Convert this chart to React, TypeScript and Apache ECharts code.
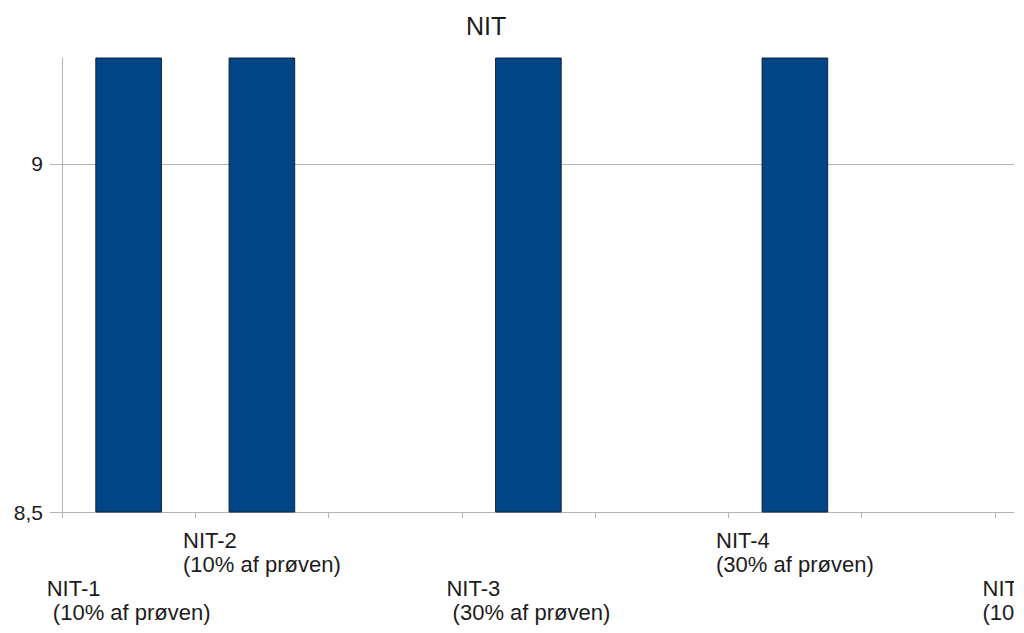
import React, { useEffect, useRef } from "react";
import * as echarts from "echarts";

const titleText = "NIT";
const categories = [
  "NIT-1\n (10% af prøven)",
  "NIT-2\n(10% af prøven)",
  "",
  "NIT-3\n (30% af prøven)",
  "",
  "NIT-4\n(30% af prøven)",
  "",
  "NIT-5\n(10% af prøven)",
];
const values: (number | null)[] = [9.3, 9.3, null, 9.3, null, 9.3, null, 9.3];
const yTicks = [8.5, 9];
const yMin = 8.5;
const yMax = 9.152;

export default function App() {
  const ref = useRef<HTMLDivElement>(null);
  useEffect(() => {
    if (!ref.current) return;
    const chart = echarts.init(ref.current, null, { renderer: "svg" });
    const font = "Liberation Sans";
    const textColor = "#1c1c1c";
    const gray = "#b3b3b3";
    const rowOf: Record<number, number> = {};
    let k = 0;
    categories.forEach((c, i) => {
      if (c) {
        rowOf[i] = k % 2 === 0 ? 1 : 0;
        k++;
      }
    });
    chart.setOption({
      animation: false,
      title: {
        text: titleText,
        left: 461,
        top: 8,
        textStyle: { fontFamily: font, fontSize: 25, fontWeight: "normal", color: textColor, lineHeight: 25 },
      },
      grid: { left: 62, top: 58, bottom: 121, width: 1066, containLabel: false, outerBoundsMode: "none" },
      xAxis: {
        type: "category",
        data: categories,
        boundaryGap: true,
        axisLine: { show: true, lineStyle: { color: gray, width: 1 } },
        axisTick: { show: true, length: 6, lineStyle: { color: gray }, alignWithLabel: false, interval: 0 },
        axisLabel: {
          interval: 0,
          margin: 16,
          color: textColor,
          fontFamily: font,
          fontSize: 22,
          lineHeight: 24,
          verticalAlign: "top",
          hideOverlap: false,
          formatter: (v: string, idx: number) => {
            if (!v) return "";
            const lines = v.split("\n").map((l) => `{a|${l}}`);
            const pre = rowOf[idx] === 1 ? ["{a|}", "{a|}"] : [];
            return [...pre, ...lines].join("\n");
          },
          rich: {
            a: { fontFamily: font, fontSize: 22, lineHeight: 24, color: textColor, align: "left" },
          },
        },
        splitLine: { show: false },
      },
      yAxis: {
        type: "value",
        min: yMin,
        max: yMax,
        interval: 0.5,
        axisLine: { show: true, lineStyle: { color: gray, width: 1 } },
        axisTick: { show: true, length: 12, lineStyle: { color: gray }, customValues: yTicks },
        axisLabel: {
          customValues: yTicks,
          margin: 19,
          color: textColor,
          fontFamily: font,
          fontSize: 21,
          formatter: (v: number) => String(v).replace(".", ","),
        },
        splitLine: { show: true, lineStyle: { color: gray, width: 1 } },
      },
      series: [
        {
          type: "bar",
          data: values,
          barWidth: "50%",
          clip: true,
          itemStyle: { color: "#004586", borderColor: "#14243a", borderWidth: 1 },
        },
      ],
    });
    return () => chart.dispose();
  }, []);
  return (
    <div
      ref={ref}
      style={{ position: "absolute", left: 0, top: 0, width: 1014, height: 633, overflow: "hidden" }}
    />
  );
}
